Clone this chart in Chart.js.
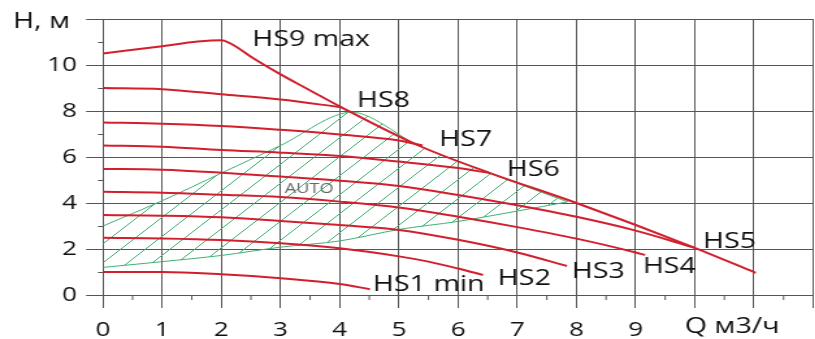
<!DOCTYPE html>
<html lang="ru">
<head>
<meta charset="UTF-8">
<title>HS pump curves</title>
<script src="https://cdn.jsdelivr.net/npm/chart.js@4"></script>
<style>
  html, body { margin: 0; padding: 0; background: #fff; }
  /* the original picture is stretched sideways, so is this one */
  #wrap { width: 627px; height: 339px; transform: scaleX(1.3); transform-origin: 0 0; }
</style>
</head>
<body>
<div id="wrap"><canvas id="pumpChart"></canvas></div>
<script>
const STRETCH = 1.3;

// pump curves, [Q m3/h, H m]
const hs9Max = [[0, 10.5], [1, 10.82], [1.6, 11.02], [2, 11.08], [2.2, 10.87], [2.54, 10.29], [3, 9.59], [3.44, 8.98], [4.03, 8.16], [5.33, 6.5], [6.54, 5.3], [8, 4.0], [10, 2.05], [11.03, 0.96]];
const hs8 = [[0, 9.0], [1, 8.95], [2, 8.73], [3, 8.5], [4.03, 8.16]];
const hs7 = [[0, 7.5], [1, 7.45], [2, 7.35], [3, 7.18], [4, 6.98], [5, 6.72], [5.4, 6.5]];
const hs6 = [[0, 6.5], [1, 6.45], [2, 6.3], [3, 6.19], [4, 6.04], [5, 5.8], [6, 5.52], [6.54, 5.3]];
const hs5 = [[0, 5.48], [1, 5.45], [2, 5.32], [3, 5.15], [4, 4.97], [5, 4.74], [6, 4.35], [7, 3.9], [8, 3.4], [9, 2.8], [10, 2.05]];
const hs4 = [[0, 4.49], [1, 4.45], [2, 4.36], [3, 4.26], [4, 4.06], [5, 3.8], [6, 3.4], [7, 2.95], [8, 2.45], [9, 1.85], [9.16, 1.74]];
const hs3 = [[0, 3.48], [1, 3.45], [2, 3.38], [3, 3.22], [4, 3.04], [5, 2.83], [6, 2.4], [7, 1.85], [7.84, 1.26]];
const hs2 = [[0, 2.49], [1, 2.46], [2, 2.39], [3, 2.25], [4, 2.03], [5, 1.68], [5.5, 1.45], [6, 1.15], [6.42, 0.87]];
const hs1 = [[0, 1.0], [1, 1.0], [2, 0.9], [3, 0.73], [4, 0.48], [4.51, 0.25]];

// AUTO zone borders
const autoTop = [[0, 3.0], [1, 4.1], [2, 5.3], [3, 6.5], [4.2, 7.95], [5.33, 6.5], [6.54, 5.3], [7.85, 4.05]];
const autoBottom = [[0, 1.2], [1, 1.45], [2, 1.72], [3, 2.08], [4, 2.35], [5, 2.85], [6, 3.2], [7, 3.65], [7.85, 4.05]];

const curves = [hs9Max, hs8, hs7, hs6, hs5, hs4, hs3, hs2, hs1];

const xTickMax = 9;
const curveTexts = ['HS9 max', 'HS8', 'HS7', 'HS6', 'HS5', 'HS4', 'HS3', 'HS2', 'HS1 min', 'AUTO', 'H, м', 'Q м3/ч'];
const textAnchors = [[2.52, 11.1], [4.29, 8.43], [5.68, 6.74], [6.82, 5.43], [10.14, 2.3], [9.12, 1.22], [7.92, 1.0], [6.67, 0.7], [4.56, 0.43], [3.07, 4.6], [-1.52, 11.87], [9.83, -1.39]];

const RED = '#d21f2d';
const GREEN = '#3fb073';
const GRID = '#555';

function toXY(arr) {
    return arr.map(p => ({ x: p[0], y: p[1] }));
}

function hatchPattern() {
    const t = 19;
    const c = document.createElement('canvas');
    c.width = t;
    c.height = t;
    const g = c.getContext('2d');
    g.strokeStyle = GREEN;
    g.lineWidth = 1;
    g.beginPath();
    g.moveTo(-1, t + 1);
    g.lineTo(t + 1, -1);
    g.stroke();
    return g.createPattern(c, 'repeat');
}

const datasets = curves.map(c => ({
    data: toXY(c),
    borderColor: RED,
    borderWidth: 2,
    pointRadius: 0,
    cubicInterpolationMode: 'monotone',
    fill: false,
    order: 0
}));

datasets.push({
    data: toXY(autoTop),
    borderColor: GREEN,
    borderWidth: 1,
    pointRadius: 0,
    tension: 0.3,
    fill: '+1',
    backgroundColor: hatchPattern(),
    order: 2
});
datasets.push({
    data: toXY(autoBottom),
    borderColor: GREEN,
    borderWidth: 1,
    pointRadius: 0,
    tension: 0.3,
    fill: false,
    order: 2
});

// half-step tick marks on both axes
const minorTicks = {
    id: 'minorTicks',
    afterDraw(chart) {
        const { ctx, scales: { x, y } } = chart;
        const x0 = x.getPixelForValue(0);
        const y0 = y.getPixelForValue(0);
        ctx.save();
        ctx.strokeStyle = GRID;
        ctx.lineWidth = 1;
        ctx.beginPath();
        for (let v = 1; v < 12; v += 2) {
            const py = Math.round(y.getPixelForValue(v)) + 0.5;
            ctx.moveTo(x0 - 5 / STRETCH, py);
            ctx.lineTo(x0, py);
        }
        for (let v = 0.5; v < 12; v += 1) {
            const px = x.getPixelForValue(v);
            ctx.moveTo(px, y0);
            ctx.lineTo(px, y0 + 5);
        }
        ctx.stroke();
        ctx.restore();
    }
};

const curveLabels = {
    id: 'curveLabels',
    afterDraw(chart) {
        const { ctx, scales: { x, y } } = chart;
        ctx.save();
        ctx.textAlign = 'left';
        ctx.textBaseline = 'middle';
        curveTexts.forEach((txt, i) => {
            const isAuto = txt === 'AUTO';
            ctx.font = isAuto ? '14px "Open Sans"' : '22px "Open Sans"';
            ctx.fillStyle = isAuto ? '#666' : '#111';
            const a = textAnchors[i];
            ctx.fillText(txt, x.getPixelForValue(a[0]), y.getPixelForValue(a[1]));
        });
        ctx.restore();
    }
};

new Chart(document.getElementById('pumpChart'), {
    type: 'line',
    data: { datasets: datasets },
    options: {
        responsive: true,
        maintainAspectRatio: false,
        animation: false,
        layout: { padding: { top: 19, right: 0, left: 0, bottom: 0 } },
        plugins: { legend: { display: false }, tooltip: { enabled: false } },
        scales: {
            x: {
                type: 'linear',
                min: 0,
                max: 12,
                ticks: {
                    stepSize: 1,
                    padding: 10,
                    color: '#111',
                    font: { family: 'Open Sans', size: 20 },
                    callback: v => (v <= xTickMax ? v : '')
                },
                grid: { color: GRID, tickColor: GRID, tickLength: 13, lineWidth: 1 },
                border: { color: GRID },
                afterFit: s => {
                    s.height = 44;
                    s.paddingLeft = 0;
                    s.paddingRight = 1.5;
                }
            },
            y: {
                min: 0,
                max: 12,
                ticks: {
                    stepSize: 2,
                    padding: 7,
                    color: '#111',
                    font: { family: 'Open Sans', size: 20 },
                    callback: v => (v === 12 ? '' : v)
                },
                grid: { color: GRID, tickColor: GRID, tickLength: 13, lineWidth: 1 },
                border: { color: GRID },
                afterFit: s => { s.width = 103 / STRETCH; }
            }
        }
    },
    plugins: [minorTicks, curveLabels]
});
</script>
</body>
</html>
